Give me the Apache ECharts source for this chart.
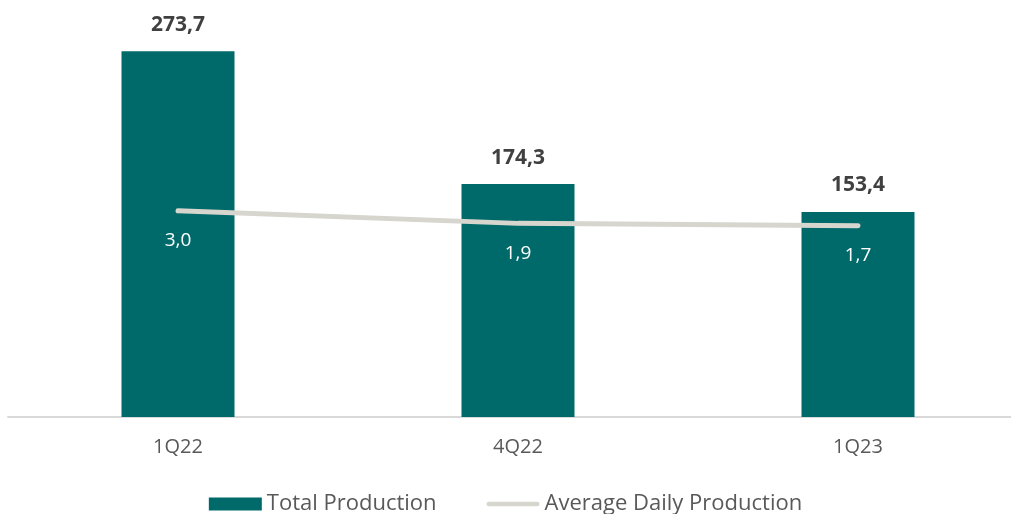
<!DOCTYPE html>
<html><head><meta charset="utf-8">
<script src="https://cdn.jsdelivr.net/npm/echarts@6/dist/echarts.min.js"></script>
<style>html,body{margin:0;padding:0;background:#fff}#c{width:1011px;height:514px}</style>
</head><body><div id="c"></div>
<script>
const categories = ['1Q22', '4Q22', '1Q23'];
const totalProduction = [273.7, 174.3, 153.4];
const avgDailyProduction = [3.0, 1.9, 1.7];

const fmt = v => v.toFixed(1).replace('.', ',');
const FONT = '"Open Sans", sans-serif';
const LINE_ICON = 'path://M2.5,0 L53.5,0 A2.5,2.5 0 0 1 53.5,5 L2.5,5 A2.5,2.5 0 0 1 2.5,0 Z';
const chart = echarts.init(document.getElementById('c'));
chart.setOption({
  animation: false,
  textStyle: { fontFamily: FONT },
  grid: { left: 8, top: 16, right: -17, height: 401, containLabel: false, outerBoundsMode: 'none' },
  legend: {
    top: 488, left: 'center',
    itemGap: 50, itemWidth: 53, itemHeight: 13,
    textStyle: { fontSize: 22, color: '#595959', fontFamily: FONT },
    data: [
      { name: 'Total Production', icon: 'rect' },
      { name: 'Average Daily Production', icon: LINE_ICON, itemStyle: { color: '#d6d6cf', opacity: 1 } }
    ]
  },
  xAxis: {
    type: 'category', data: categories,
    axisLine: { lineStyle: { color: '#d9d9d9', width: 2 } },
    axisTick: { show: false },
    axisLabel: { fontSize: 20, color: '#595959', margin: 20 }
  },
  yAxis: [
    { type: 'value', min: 0, max: 300, show: false, splitLine: { show: false } },
    { type: 'value', min: -15, max: 20, show: false, splitLine: { show: false } }
  ],
  series: [
    {
      name: 'Total Production', type: 'bar', data: totalProduction, barWidth: 113,
      itemStyle: { color: '#006a6b' },
      label: { show: true, position: 'top', distance: 16, formatter: p => fmt(p.value),
        fontSize: 21, fontWeight: 'bold', color: '#404040', fontFamily: FONT }
    },
    {
      name: 'Average Daily Production', type: 'line', yAxisIndex: 1, data: avgDailyProduction,
      symbol: 'circle', symbolSize: 1, showSymbol: true,
      lineStyle: { color: '#d6d6cf', width: 5, cap: 'round' },
      itemStyle: { color: '#d6d6cf', opacity: 0 },
      label: { show: true, position: 'bottom', distance: 20, offset: [5, 0], formatter: p => fmt(p.value),
        fontSize: 19, color: '#ffffff', fontFamily: FONT, opacity: 1 },
      labelLayout: { hideOverlap: false },
      z: 3
    }
  ]
});
</script></body></html>
